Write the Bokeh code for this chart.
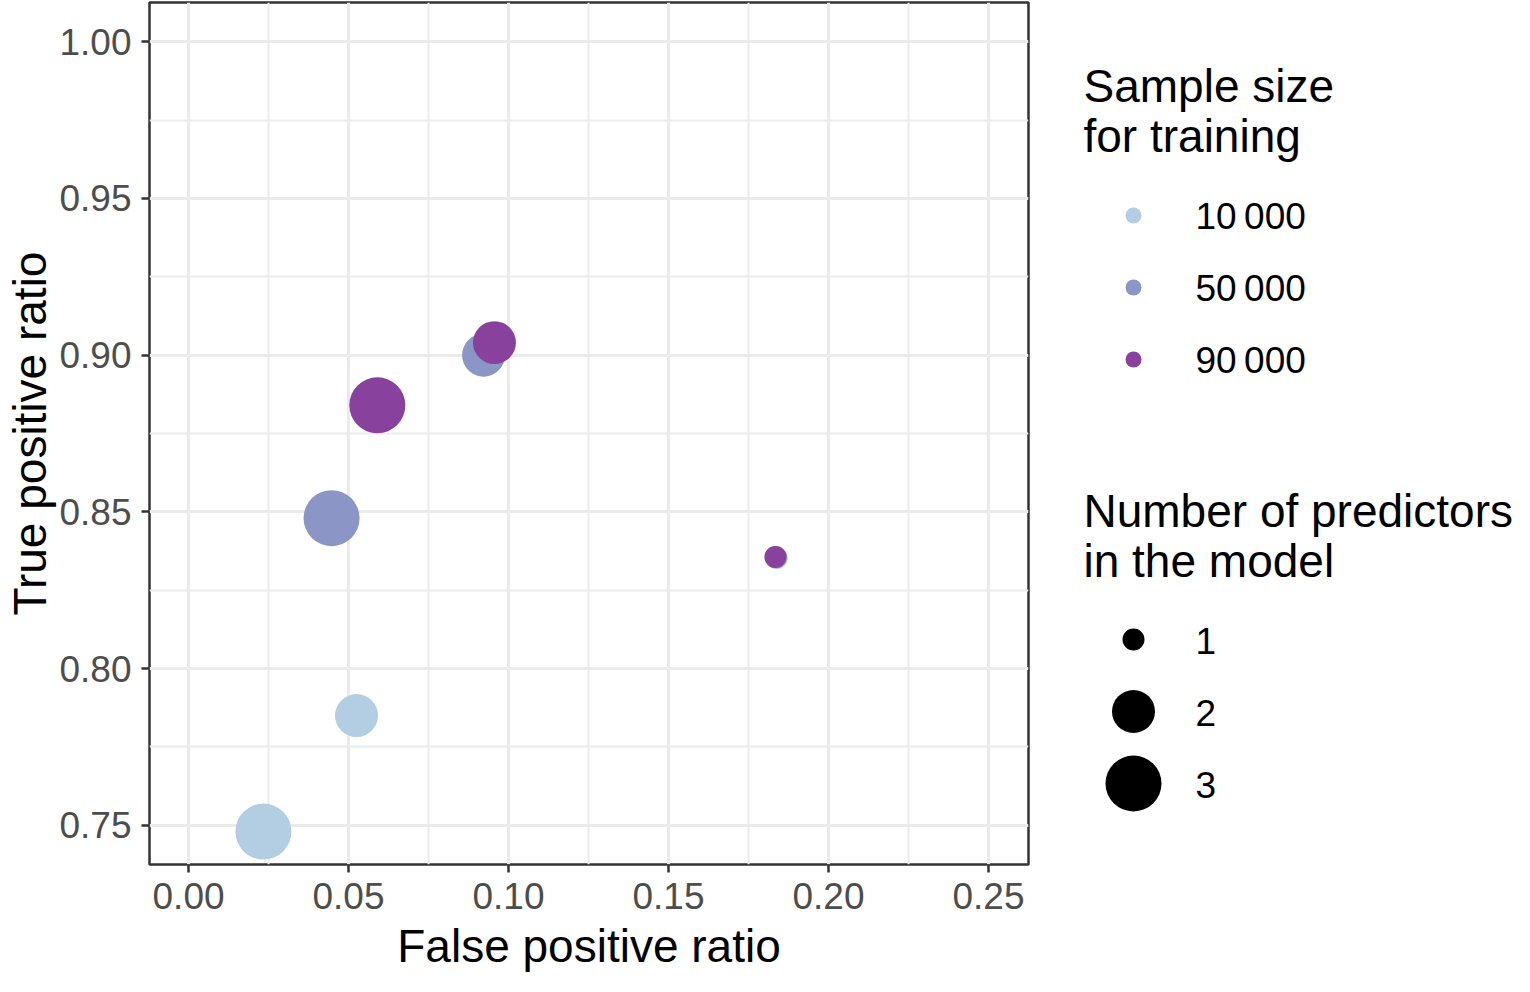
from bokeh.plotting import figure
from bokeh.layouts import row
from bokeh.models import ColumnDataSource, FixedTicker, Range1d
from bokeh.core.properties import value
from bokeh.embed import file_html
from bokeh.resources import INLINE

# ---- data ----
sample_size = [10000, 10000, 10000, 50000, 50000, 50000, 90000, 90000, 90000]
n_predictors = [1, 2, 3, 1, 2, 3, 1, 2, 3]
false_pos = [0.1838, 0.0525, 0.0234, 0.1836, 0.0922, 0.0447, 0.1834, 0.0956, 0.0590]
true_pos = [0.8353, 0.7850, 0.7480, 0.8355, 0.9000, 0.8480, 0.8356, 0.9040, 0.8840]

x_ticks = [0.00, 0.05, 0.10, 0.15, 0.20, 0.25]
x_tick_labels = ["0.00", "0.05", "0.10", "0.15", "0.20", "0.25"]
y_ticks = [0.75, 0.80, 0.85, 0.90, 0.95, 1.00]
y_tick_labels = ["0.75", "0.80", "0.85", "0.90", "0.95", "1.00"]
x_minor = [0.025, 0.075, 0.125, 0.175, 0.225]
y_minor = [0.775, 0.825, 0.875, 0.925, 0.975]

size_levels = [10000, 50000, 90000]
size_labels = ["10\u2009000", "50\u2009000", "90\u2009000"]
pred_levels = [1, 2, 3]
pred_labels = ["1", "2", "3"]
legend_titles = [["Sample size", "for training"], ["Number of predictors", "in the model"]]

# ---- styles ----
colors = {10000: "#B3CDE3", 50000: "#8C96C6", 90000: "#88419D"}
diam = {1: 22, 2: 43, 3: 56}
FONT = "Liberation Sans"

H = 976
TOP = 2
BOTTOM_BORDER = 112
MAIN_W = 1036
LEG_W = 478

src = ColumnDataSource(dict(
    x=false_pos, y=true_pos,
    color=[colors[s] for s in sample_size],
    size=[diam[n] for n in n_predictors],
))

p = figure(width=MAIN_W, height=H, output_backend="svg", toolbar_location=None,
           x_range=Range1d(-0.0122, 0.2625), y_range=Range1d(0.7375, 1.0125),
           min_border_left=149, min_border_right=8, min_border_top=TOP,
           min_border_bottom=BOTTOM_BORDER,
           background_fill_color="white", border_fill_color="white")
p.scatter("x", "y", source=src, size="size", fill_color="color", line_color=None)

p.outline_line_color = "#333333"
p.outline_line_width = 2.5

p.xaxis.ticker = FixedTicker(ticks=x_ticks, minor_ticks=x_minor)
p.yaxis.ticker = FixedTicker(ticks=y_ticks, minor_ticks=y_minor)
p.xaxis.major_label_overrides = {t: l for t, l in zip(x_ticks, x_tick_labels)}
p.yaxis.major_label_overrides = {t: l for t, l in zip(y_ticks, y_tick_labels)}

for ax in (p.xaxis, p.yaxis):
    ax.axis_line_color = None
    ax.major_tick_line_color = "#333333"
    ax.major_tick_line_width = 2.5
    ax.major_tick_out = 8
    ax.major_tick_in = 0
    ax.minor_tick_line_color = None
    ax.major_label_text_font = FONT
    ax.major_label_text_font_size = "37px"
    ax.major_label_text_color = "#4D4D4D"
    ax.axis_label_text_font = FONT
    ax.axis_label_text_font_size = "46px"
    ax.axis_label_text_font_style = "normal"
    ax.axis_label_text_color = "black"

p.xaxis.axis_label = "False positive ratio"
p.yaxis.axis_label = "True positive ratio"
p.xaxis.major_label_standoff = 10
p.xaxis.axis_label_standoff = 8
p.yaxis.major_label_standoff = 10
p.yaxis.axis_label_standoff = 0

for g in (p.xgrid, p.ygrid):
    g.grid_line_color = "#EBEBEB"
    g.grid_line_width = 3
    g.minor_grid_line_color = "#EBEBEB"
    g.minor_grid_line_width = 2

# ---- legend panel (coordinates: pixels from its left edge / page top) ----
leg = figure(width=LEG_W, height=H, output_backend="svg", toolbar_location=None,
             x_range=Range1d(0, LEG_W), y_range=Range1d(H - BOTTOM_BORDER, TOP),
             min_border_left=0, min_border_right=0,
             min_border_top=TOP, min_border_bottom=BOTTOM_BORDER)
leg.axis.visible = False
leg.grid.visible = False
leg.outline_line_color = None

title_x = 47
key_x = 1133 - MAIN_W
lab_x = 1195 - MAIN_W

def add_legend(lines, title_y, key_y, key_colors, key_sizes, labels):
    leg.text(x=[title_x] * len(lines), y=[title_y + 50 * i for i in range(len(lines))],
             text=lines, text_font=value(FONT), text_font_size="46px",
             text_baseline="middle", text_color="black")
    ys = [key_y + 72 * i for i in range(len(labels))]
    leg.scatter(x=[key_x] * len(labels), y=ys, size=key_sizes,
                fill_color=key_colors, line_color=None)
    leg.text(x=[lab_x] * len(labels), y=[v + 1 for v in ys], text=labels,
             text_font=value(FONT), text_font_size="37px",
             text_baseline="middle", text_color="black")

add_legend(legend_titles[0], 85, 215, [colors[s] for s in size_levels],
           [16] * len(size_levels), size_labels)
add_legend(legend_titles[1], 510, 639, ["black"] * len(pred_levels),
           [diam[n] for n in pred_levels], pred_labels)

layout = row(p, leg)
open("out.html", "w").write(file_html(layout, INLINE))
